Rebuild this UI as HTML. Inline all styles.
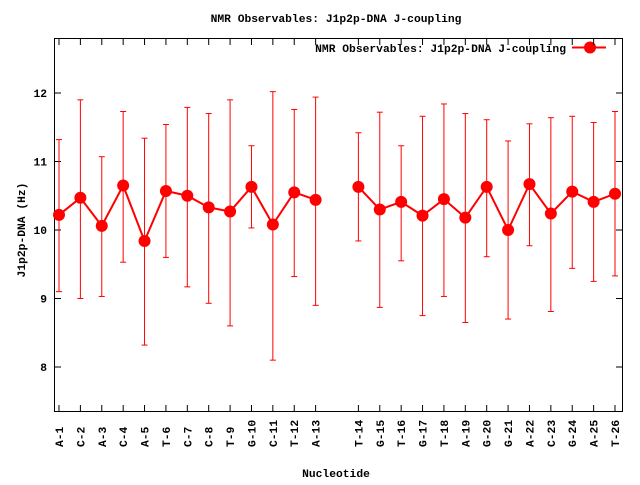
<!DOCTYPE html>
<html><head><meta charset="utf-8"><style>
body{margin:0;background:#fff}
svg text{font-family:"Liberation Mono",monospace;font-weight:bold;font-size:11.3px;fill:#000}
</style></head><body>
<svg id="s" width="640" height="480" xmlns="http://www.w3.org/2000/svg">
<rect x="0" y="0" width="640" height="480" fill="#fff"/>
<rect x="54.5" y="38.5" width="568" height="373" fill="none" stroke="#000" stroke-width="1"/>
<text x="336" y="22" text-anchor="middle">NMR Observables: J1p2p-DNA J-coupling</text>
<text x="336" y="477" text-anchor="middle">Nucleotide</text>
<text transform="translate(25,230) rotate(-90)" text-anchor="middle">J1p2p-DNA (Hz)</text>
<text x="566" y="52" text-anchor="end">NMR Observables: J1p2p-DNA J-coupling</text>
<line x1="572" y1="47.5" x2="606" y2="47.5" stroke="#f00" stroke-width="2"/>
<circle cx="590" cy="47.5" r="6" fill="#f00"/>
<g id="g"></g>
</svg>
<script>
var d=[["A-1",10.22,9.1,11.32],["C-2",10.47,9.0,11.9],["A-3",10.06,9.03,11.07],["C-4",10.65,9.53,11.73],["A-5",9.84,8.32,11.34],["T-6",10.57,9.6,11.54],["C-7",10.5,9.17,11.79],["C-8",10.33,8.93,11.7],["T-9",10.27,8.6,11.9],["G-10",10.63,10.03,11.23],["C-11",10.08,8.1,12.02],["T-12",10.55,9.32,11.76],["A-13",10.44,8.9,11.94],
["T-14",10.63,9.84,11.42],["G-15",10.3,8.87,11.72],["T-16",10.41,9.55,11.23],["G-17",10.21,8.75,11.66],["T-18",10.45,9.03,11.84],["A-19",10.18,8.65,11.7],["G-20",10.63,9.61,11.61],["G-21",10.0,8.7,11.3],["A-22",10.67,9.77,11.55],["C-23",10.24,8.81,11.64],["G-24",10.56,9.44,11.66],["A-25",10.41,9.25,11.57],["T-26",10.53,9.33,11.73]];
function Y(v){return 230-(v-10)*68.5;}
var h="";
[8,9,10,11,12].forEach(function(v){var y=Y(v);h+='<line x1="55" y1="'+y+'" x2="61" y2="'+y+'" stroke="#000"/><line x1="616" y1="'+y+'" x2="622" y2="'+y+'" stroke="#000"/><text x="47" y="'+(y+4)+'" text-anchor="end">'+v+'</text>';});
var pts1=[],pts2=[];
d.forEach(function(p,i){var slot=i<13?i:i+1;var x=59+slot*21.385;
h+='<line x1="'+x+'" y1="411" x2="'+x+'" y2="405" stroke="#000"/><line x1="'+x+'" y1="39" x2="'+x+'" y2="45" stroke="#000"/>';
h+='<text transform="translate('+(x+4)+',447) rotate(-90)">'+p[0]+'</text>';
h+='<line x1="'+x+'" y1="'+Y(p[2])+'" x2="'+x+'" y2="'+Y(p[3])+'" stroke="#f00"/>';
h+='<line x1="'+(x-3)+'" y1="'+Y(p[2])+'" x2="'+(x+3)+'" y2="'+Y(p[2])+'" stroke="#f00"/><line x1="'+(x-3)+'" y1="'+Y(p[3])+'" x2="'+(x+3)+'" y2="'+Y(p[3])+'" stroke="#f00"/>';
(i<13?pts1:pts2).push(x+','+Y(p[1]));});
h+='<polyline points="'+pts1.join(' ')+'" fill="none" stroke="#f00" stroke-width="2"/><polyline points="'+pts2.join(' ')+'" fill="none" stroke="#f00" stroke-width="2"/>';
d.forEach(function(p,i){var slot=i<13?i:i+1;var x=59+slot*21.385;h+='<circle cx="'+x+'" cy="'+Y(p[1])+'" r="6" fill="#f00"/>';});
document.getElementById("g").innerHTML=h;
</script>
</body></html>
